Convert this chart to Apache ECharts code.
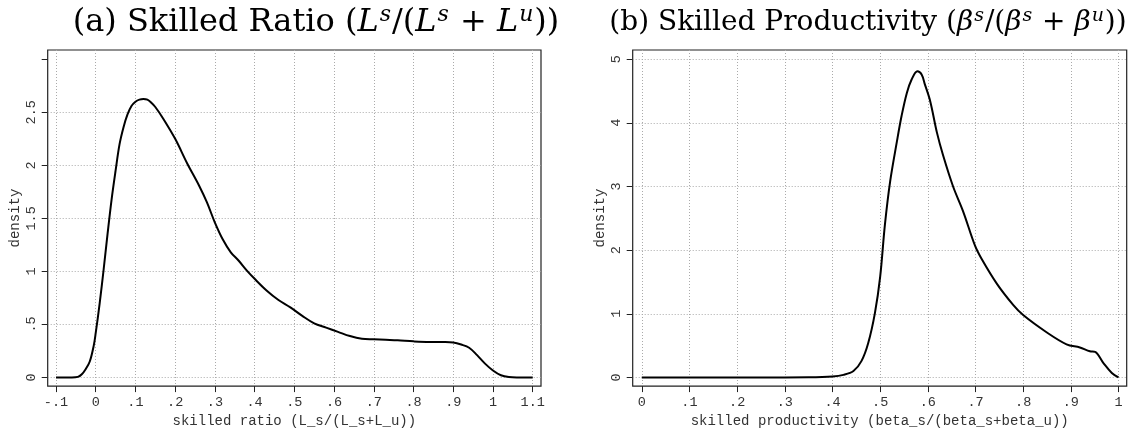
<!DOCTYPE html>
<html>
<head>
<meta charset="utf-8">
<script src="https://cdn.jsdelivr.net/npm/echarts@6/dist/echarts.min.js"></script>
<style>
html,body{margin:0;padding:0;background:#fff;}
#chart{width:1128px;height:433px;}
</style>
</head>
<body>
<div id="chart"></div>
<script>
// ---- data ----
const ratioX = [-0.1,-0.08,-0.06,-0.045,-0.035,-0.025,-0.015,-0.005,0.0,0.01,0.02,0.03,0.04,0.05,0.06,0.07,0.08,0.09,0.10,0.11,0.12,0.13,0.14,0.15,0.17,0.20,0.23,0.26,0.28,0.30,0.32,0.34,0.36,0.38,0.40,0.43,0.46,0.49,0.52,0.55,0.58,0.61,0.64,0.67,0.70,0.73,0.76,0.80,0.84,0.88,0.90,0.92,0.94,0.96,0.98,1.00,1.02,1.04,1.06,1.1];
const ratioY = [0,0,0,0.005,0.03,0.08,0.15,0.3,0.42,0.7,1.02,1.36,1.68,1.95,2.2,2.36,2.48,2.56,2.6,2.62,2.625,2.62,2.59,2.55,2.44,2.25,2.02,1.81,1.65,1.46,1.3,1.18,1.1,1.01,0.93,0.82,0.73,0.66,0.58,0.51,0.47,0.43,0.39,0.365,0.36,0.355,0.35,0.34,0.335,0.335,0.33,0.31,0.28,0.21,0.13,0.065,0.02,0.003,0,0];

const prodX = [0,0.1,0.2,0.3,0.35,0.4,0.423,0.444,0.461,0.475,0.489,0.5,0.51,0.521,0.535,0.545,0.556,0.566,0.578,0.587,0.594,0.605,0.619,0.632,0.653,0.674,0.699,0.713,0.745,0.779,0.8,0.849,0.891,0.919,0.94,0.951,0.968,0.986,1.0];
const prodY = [0,0,0,0,0.002,0.015,0.04,0.1,0.26,0.54,1.01,1.58,2.4,3.08,3.7,4.11,4.47,4.68,4.81,4.76,4.6,4.34,3.85,3.49,3.0,2.61,2.07,1.86,1.47,1.14,0.98,0.71,0.52,0.47,0.41,0.4,0.23,0.07,0];

const xTicksA = [-0.1,0,0.1,0.2,0.3,0.4,0.5,0.6,0.7,0.8,0.9,1,1.1];
const yTicksA = [0,0.5,1,1.5,2,2.5,3];
const yLabelsA = [0,0.5,1,1.5,2,2.5];
const xTicksB = [0,0.1,0.2,0.3,0.4,0.5,0.6,0.7,0.8,0.9,1];
const yTicksB = [0,1,2,3,4,5];

const titleA = '{n|(a) Skilled Ratio (}{i|L}{s|s}{n|/(}{i|L}{s|s}{n| + }{i|L}{s|u}{n|))}';
const titleB = '{n|(b) Skilled Productivity (}{i|\u03b2}{s|s}{n|/(}{i|\u03b2}{s|s}{n| + }{i|\u03b2}{s|u}{n|))}';
const xNameA = 'skilled ratio (L_s/(L_s+L_u))';
const xNameB = 'skilled productivity (beta_s/(beta_s+beta_u))';
const yName = 'density';

// ---- helpers ----
function fmt(v){
  let s = (Math.round(v*100)/100).toString();
  s = s.replace(/^0\./,'.').replace(/^-0\./,'-.');
  return s;
}
const mono = 'Liberation Mono';
const txt = '#333';
function serifRich(size){
  const sup = Math.round(size*0.68);
  const lh = Math.round(size*1.15);
  return {
    n:{fontFamily:'DejaVu Serif',fontWeight:'normal',fontSize:size,color:'#000',lineHeight:lh},
    i:{fontFamily:'DejaVu Serif',fontWeight:'normal',fontStyle:'italic',fontSize:size,color:'#000',lineHeight:lh},
    s:{fontFamily:'DejaVu Serif',fontWeight:'normal',fontStyle:'italic',fontSize:sup,color:'#000',lineHeight:sup,
       padding:[0,1,lh-sup,1]}
  };
}

function xAxisCfg(idx, min, max, ticks, name){
  return {
    type:'value', gridIndex:idx, min:min, max:max, name:name,
    nameLocation:'middle', nameGap:24,
    nameTextStyle:{fontFamily:mono,fontSize:14,color:txt},
    axisLine:{show:false,onZero:false},
    axisTick:{show:true,inside:false,length:6,customValues:ticks,lineStyle:{color:'#222',width:1}},
    axisLabel:{show:true,customValues:ticks,margin:9,fontFamily:mono,fontSize:13.5,color:txt,formatter:fmt},
    splitLine:{show:true,lineStyle:{color:'#aaa',type:[1,2],width:1}}
  };
}
function yAxisCfg(idx, min, max, ticks, labels, gridColors){
  return {
    type:'value', gridIndex:idx, min:min, max:max, name:yName,
    nameLocation:'middle', nameGap:25,
    nameTextStyle:{fontFamily:mono,fontSize:14,color:txt},
    axisLine:{show:false,onZero:false},
    axisTick:{show:true,inside:false,length:6,customValues:ticks,lineStyle:{color:'#222',width:1}},
    axisLabel:{show:true,customValues:labels,rotate:90,margin:9,fontFamily:mono,fontSize:13.5,color:txt,formatter:fmt},
    splitLine:{show:true,lineStyle:{color:gridColors,type:[1,2],width:1}}
  };
}

// layout: frame rects
const gA = {left:47.7, top:50, width:493.3, height:340.5};
const gB = {left:632.7, top:50, width:494, height:340.5};
const gc = '#aaa';

const option = {
  animation:false,
  backgroundColor:'#fff',
  title:[
    {text:titleA, left:311, top:-1, textAlign:'center', textStyle:{fontWeight:'normal',rich:serifRich(32)}},
    {text:titleB, left:863, top:2, textAlign:'center', textStyle:{fontWeight:'normal',rich:serifRich(28)}}
  ],
  grid:[
    Object.assign({show:true,borderColor:'#222',borderWidth:1.2,containLabel:false}, gA),
    Object.assign({show:true,borderColor:'#222',borderWidth:1.2,containLabel:false}, gB)
  ],
  xAxis:[
    xAxisCfg(0, -0.12089, 1.12089, xTicksA, xNameA),
    xAxisCfg(1, -0.01909, 1.0172, xTicksB, xNameB)
  ],
  yAxis:[
    yAxisCfg(0, -0.0819, 3.0876, yTicksA, yLabelsA, [gc,gc,gc,gc,gc,gc,'rgba(0,0,0,0)']),
    yAxisCfg(1, -0.1365, 5.144, yTicksB, yTicksB, gc)
  ],
  series:[
    {type:'line', xAxisIndex:0, yAxisIndex:0, data:ratioX.map((x,i)=>[x,ratioY[i]]),
     showSymbol:false, smooth:0.35, lineStyle:{color:'#000',width:2}, itemStyle:{color:'#000'}},
    {type:'line', xAxisIndex:1, yAxisIndex:1, data:prodX.map((x,i)=>[x,prodY[i]]),
     showSymbol:false, smooth:0.35, lineStyle:{color:'#000',width:2}, itemStyle:{color:'#000'}}
  ]
};
const chart = echarts.init(document.getElementById('chart'), null, {renderer:'canvas'});
chart.setOption(option);
</script>
</body>
</html>
